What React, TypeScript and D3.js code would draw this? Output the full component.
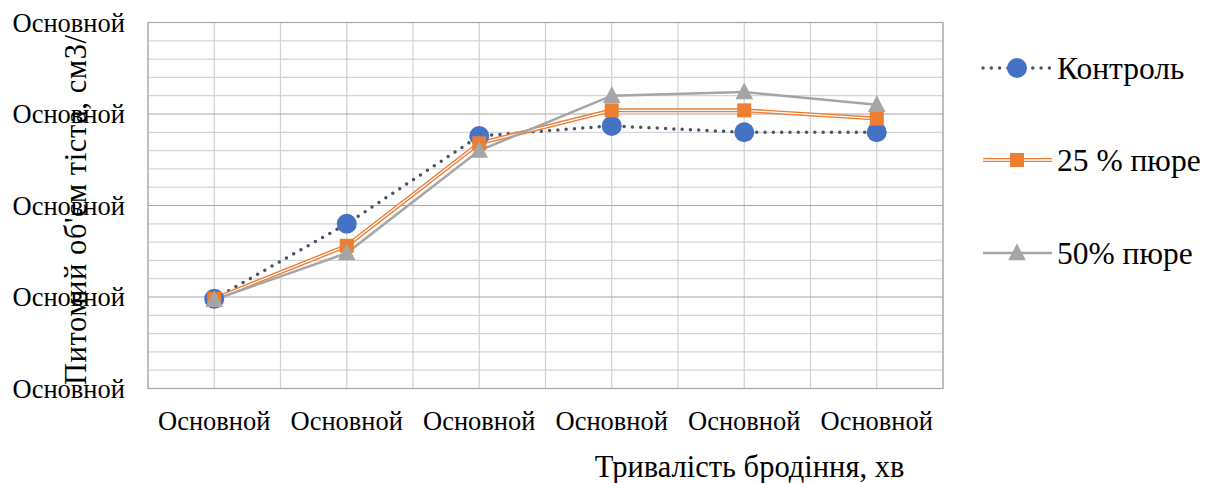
import React from "react";
import * as d3 from "d3";

const categories = ["Основной", "Основной", "Основной", "Основной", "Основной", "Основной"];
const yTickValues = [0, 1, 2, 3, 4];
const yTickLabels = ["Основной", "Основной", "Основной", "Основной", "Основной"];
const control = [0.98, 1.8, 2.76, 2.87, 2.8, 2.8];
const puree25 = [0.98, 1.56, 2.68, 3.04, 3.04, 2.95];
const puree50 = [0.97, 1.48, 2.6, 3.2, 3.24, 3.1];
const seriesNames = ["Контроль", "25 % пюре", "50% пюре"];
const xTitle = "Тривалість бродіння, хв";
const yTitle = "Питомий об'єм тіста, см3/";

const W = 1206, H = 483;
const left = 148, right = 943, top = 22.5, bottom = 388.5;
const font = "Liberation Serif, Tinos, Times New Roman, DejaVu Serif, serif";

export default function App() {
  const x = d3.scaleBand<number>().domain(d3.range(categories.length)).range([left, right]);
  const y = d3.scaleLinear().domain([0, 4]).range([bottom, top]);
  const cx = (i: number) => (x(i) as number) + x.bandwidth() / 2;
  const line = d3.line<number>().x((_, i) => cx(i)).y((d) => y(d));

  const minor = d3.range(0, 4.0001, 0.2).filter((v) => Math.abs(v - Math.round(v)) > 1e-6);
  const vlines = d3.range(0, categories.length * 2 + 1).map((k) => left + (k * x.bandwidth()) / 2);

  const tri = (px: number, py: number, s: number) =>
    `M${px},${py - s * 0.6} L${px + s * 0.55},${py + s * 0.45} L${px - s * 0.55},${py + s * 0.45} Z`;

  const legendY = [68, 160, 253];
  const ts = { fontFamily: font };

  return (
    <svg width={W} height={H} style={{ position: "absolute", left: 0, top: 0, background: "#fff" }}>
      <rect x={0} y={0} width={W} height={H} fill="#fff" />
      {minor.map((v, i) => (
        <line key={"m" + i} x1={left} x2={right} y1={y(v)} y2={y(v)} stroke="#d4d4d4" strokeWidth={1.2} />
      ))}
      {vlines.map((vx, i) => (
        <line key={"v" + i} x1={vx} x2={vx} y1={top} y2={bottom} stroke="#d0d0d0" strokeWidth={1.2} />
      ))}
      {yTickValues.map((v, i) => (
        <line key={"M" + i} x1={left} x2={right} y1={y(v)} y2={y(v)} stroke="#a6a6a6" strokeWidth={1.2} />
      ))}
      <rect x={left} y={top} width={right - left} height={bottom - top} fill="none" stroke="#a6a6a6" strokeWidth={1.2} />

      {yTickValues.map((v, i) => (
        <text key={"yl" + i} x={125} y={y(v)} dy="0.35em" textAnchor="end" style={ts} fontSize={26.5} fill="#000">
          {yTickLabels[i]}
        </text>
      ))}
      {categories.map((c, i) => (
        <text key={"xl" + i} x={cx(i)} y={430} textAnchor="middle" style={ts} fontSize={26.5} fill="#000">
          {c}
        </text>
      ))}
      <text x={749.5} y={477} textAnchor="middle" style={ts} fontSize={30.5} fill="#000">{xTitle}</text>
      <text transform={`translate(86,385) rotate(-90)`} textAnchor="start" style={ts} fontSize={30.5} textLength={350} lengthAdjust="spacing" fill="#000">{yTitle}</text>

      <path d={line(control) || ""} fill="none" stroke="#44546A" strokeWidth={3.5} strokeDasharray="0 8.3" strokeLinecap="round" />
      <path d={line(puree25) || ""} fill="none" stroke="#ED7D31" strokeWidth={4} />
      <path d={line(puree25) || ""} fill="none" stroke="#fff" strokeWidth={1.3} />
      <path d={line(puree50) || ""} fill="none" stroke="#A5A5A5" strokeWidth={2.5} />

      {control.map((v, i) => (
        <circle key={"c" + i} cx={cx(i)} cy={y(v)} r={10} fill="#4472C4" />
      ))}
      {puree25.map((v, i) => (
        <rect key={"s" + i} x={cx(i) - 7} y={y(v) - 7} width={14} height={14} fill="#ED7D31" />
      ))}
      {puree50.map((v, i) => (
        <path key={"t" + i} d={tri(cx(i), y(v), 16)} fill="#A5A5A5" />
      ))}

      <line x1={983} x2={1052} y1={legendY[0]} y2={legendY[0]} stroke="#44546A" strokeWidth={3.5} strokeDasharray="0 8.3" strokeLinecap="round" />
      <circle cx={1017} cy={legendY[0]} r={10} fill="#4472C4" />
      <line x1={983} x2={1052} y1={legendY[1]} y2={legendY[1]} stroke="#ED7D31" strokeWidth={4} />
      <line x1={983} x2={1052} y1={legendY[1]} y2={legendY[1]} stroke="#fff" strokeWidth={1.3} />
      <rect x={1010} y={legendY[1] - 7} width={14} height={14} fill="#ED7D31" />
      <line x1={983} x2={1052} y1={legendY[2]} y2={legendY[2]} stroke="#A5A5A5" strokeWidth={2.5} />
      <path d={tri(1017, legendY[2], 16)} fill="#A5A5A5" />
      {seriesNames.map((n, i) => (
        <text key={"lg" + i} x={1057} y={legendY[i]} dy="0.35em" style={ts} fontSize={31.5} fill="#000">{n}</text>
      ))}
    </svg>
  );
}
